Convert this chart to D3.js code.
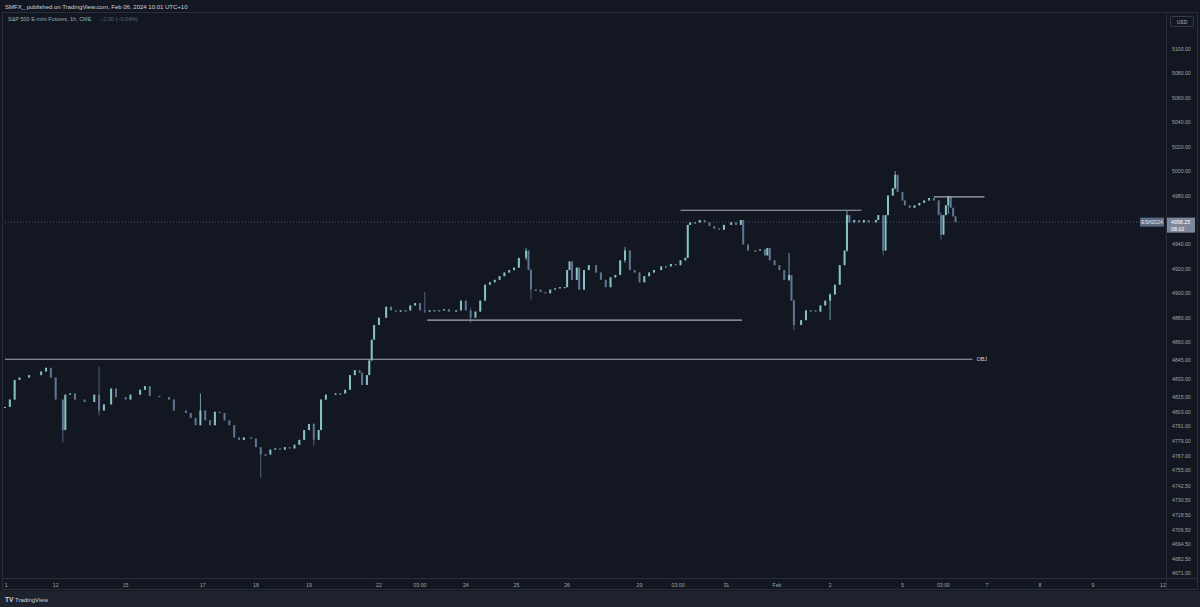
<!DOCTYPE html>
<html>
<head>
<meta charset="utf-8">
<script src="https://cdn.jsdelivr.net/npm/d3@7/dist/d3.min.js"></script>
<style>
  body { margin: 0; background: #131722; }
  svg { display: block; font-family: "Liberation Sans", "DejaVu Sans", sans-serif; }
</style>
</head>
<body>
<svg width="1200" height="607"></svg>
<script>
'use strict';
// hourly closes, ES1! Jan 11 - Feb 6
var closes = [
    4807, 4813, 4829, 4831, 4833, 4836, 4839, 4831, 4813, 4788,
    4817, 4818, 4813, 4811, 4817, 4804, 4809, 4822, 4815, 4813,
    4817, 4821, 4824, 4816, 4815, 4813, 4804, 4802, 4798, 4792,
    4804, 4796, 4792, 4803, 4802, 4796, 4792, 4782, 4780, 4782,
    4781, 4774, 4768, 4768, 4772, 4773, 4772, 4774, 4773, 4776,
    4780, 4788, 4793, 4780, 4788, 4813, 4817, 4818, 4818, 4821,
    4833, 4837, 4835, 4825, 4833, 4845, 4862, 4874, 4880, 4889,
    4886, 4885, 4886, 4886, 4890, 4892, 4886, 4885, 4886, 4886,
    4886, 4887, 4885, 4886, 4894, 4886, 4880, 4885, 4894, 4907,
    4909, 4911, 4914, 4917, 4919, 4921, 4929, 4935, 4919, 4903,
    4903, 4901, 4900, 4903, 4904, 4905, 4905, 4919, 4926, 4911,
    4921, 4903, 4919, 4923, 4917, 4911, 4905, 4913, 4915, 4927,
    4935, 4919, 4917, 4909, 4914, 4917, 4919, 4922, 4922, 4924,
    4923, 4927, 4929, 4956, 4958, 4958, 4960, 4958, 4955, 4953,
    4952, 4956, 4958, 4956, 4960, 4940, 4935, 4935, 4936, 4931,
    4937, 4927, 4923, 4919, 4911, 4915, 4894, 4874, 4878, 4886,
    4886, 4885, 4890, 4894, 4899, 4907, 4923, 4935, 4964, 4958,
    4960, 4958, 4960, 4958, 4960, 4964, 4935, 4964, 4980, 4986,
    4997, 4983, 4976, 4972, 4970, 4972, 4974, 4976, 4978, 4976,
    4964, 4948, 4964, 4972, 4979, 4970, 4963, 4958.25
];
// hour offset of each close on the (gapless) session axis
var hours = [
    0, 2, 4, 6, 10, 15, 17, 19, 21, 24,
    25, 27, 29, 33, 37, 39, 41, 44, 46, 50,
    52, 56, 58, 60, 64, 68, 70, 75, 77, 79,
    81, 83, 85, 87, 89, 91, 93, 95, 97, 99,
    102, 104, 106, 108, 110, 112, 114, 116, 118, 120,
    122, 124, 126, 128, 130, 131, 133, 137, 139, 141,
    143, 145, 147, 148, 150, 151, 152, 153, 155, 158,
    160, 162, 164, 166, 168, 170, 172, 174, 176, 178,
    180, 182, 184, 187, 189, 191, 193, 195, 197, 199,
    201, 203, 205, 207, 209, 211, 213, 216, 217, 218,
    220, 222, 224, 226, 228, 230, 232, 233, 234, 235,
    237, 238, 240, 242, 245, 247, 249, 251, 253, 255,
    257, 259, 261, 263, 265, 267, 269, 272, 274, 276,
    278, 280, 282, 283, 284, 286, 288, 290, 292, 294,
    296, 298, 301, 303, 305, 306, 308, 311, 313, 315,
    316, 317, 319, 321, 323, 325, 326, 327, 330, 332,
    334, 336, 338, 340, 342, 344, 346, 348, 349, 350,
    352, 354, 356, 358, 361, 362, 364, 365, 366, 368,
    369, 370, 372, 373, 375, 377, 379, 381, 383, 385,
    387, 388, 389, 390, 391, 392, 393, 394
];
// notable wicks: [bar index, high, low]
var wicks = [
    [9, 4800, 4778], [15, 4840, 4800], [30, 4818, 4792], [42, 4772, 4749],
    [53, 4794, 4775], [77, 4901, 4884], [86, 4888, 4876], [97, 4937, 4927],
    [99, 4920, 4895], [120, 4938, 4925], [155, 4933, 4910], [157, 4895, 4870],
    [164, 4900, 4878], [168, 4968, 4934], [176, 4962, 4931], [180, 5000, 4985],
    [191, 4966, 4944], [194, 4980, 4965]
];
var priceTicks = [5100, 5080, 5060, 5040, 5020, 5000, 4980, 4940, 4920, 4900, 4880, 4860,
    4845, 4830, 4815, 4803, 4791, 4779, 4767, 4755, 4742.5, 4730.5, 4718.5, 4706.5,
    4694.5, 4682.5, 4671];
var timeLabels = ['1', '12', '15', '17', '18', '19', '22', '03:00', '24', '25', '26', '29',
    '03:00', '31', 'Feb', '2', '5', '03:00', '7', '8', '9', '12'];
var timeHours = [0.5, 21, 50, 82, 104, 126, 155, 172, 191, 212, 233, 263,
    279, 299, 320, 342, 372, 389, 407, 429, 451, 480];
// drawn levels: [start hour, end hour, price, label]
var levels = [
    [0, 401, 4846, 'OBJ'],
    [175, 305.5, 4878, ''],
    [280, 355, 4968, ''],
    [385, 406, 4979, '']
];
var lastPrice = 4958.25;

var svg = d3.select('svg');
var x = d3.scaleLinear().domain([0, 480]).range([5, 1163]);
var y = d3.scaleLinear().domain([4671, 5100]).range([573, 49]);

// header
svg.append('text').attr('x', 5).attr('y', 9).attr('fill', '#d1d4dc').attr('font-size', 6)
    .text('SMFX_ published on TradingView.com, Feb 06, 2024 10:01 UTC+10');
svg.append('rect').attr('x', 2.5).attr('y', 12.5).attr('width', 1195).attr('height', 577)
    .attr('fill', 'none').attr('stroke', '#2a2e39');
svg.append('line').attr('x1', 1166.5).attr('x2', 1166.5).attr('y1', 12).attr('y2', 590).attr('stroke', '#2a2e39');
svg.append('line').attr('x1', 3).attr('x2', 1197).attr('y1', 578.5).attr('y2', 578.5).attr('stroke', '#2a2e39');
svg.append('text').attr('x', 8).attr('y', 21).attr('font-size', 5.5).attr('fill', '#8fb3b3')
    .text('S&P 500 E-mini Futures, 1h, CME');
svg.append('text').attr('x', 100).attr('y', 21).attr('font-size', 5.5).attr('fill', '#55706f')
    .text('\u22122.00 (\u22120.04%)');

// footer
svg.append('rect').attr('x', 0).attr('y', 591).attr('width', 1200).attr('height', 16).attr('fill', '#1e222d');
svg.append('text').attr('x', 5).attr('y', 601.5).attr('font-size', 6.5).attr('font-weight', 'bold').attr('fill', '#d1d4dc').text('TV');
svg.append('text').attr('x', 15).attr('y', 601.5).attr('font-size', 6).attr('fill', '#d1d4dc').text('TradingView');

// price axis
svg.append('rect').attr('x', 1170.5).attr('y', 16.5).attr('width', 23).attr('height', 10).attr('rx', 1.5)
    .attr('fill', 'none').attr('stroke', '#363a45');
svg.append('text').attr('x', 1182).attr('y', 23.5).attr('text-anchor', 'middle').attr('font-size', 5).attr('fill', '#b2b5be').text('USD');
svg.selectAll('.ptick').data(priceTicks).enter().append('text')
    .attr('x', 1172).attr('y', function (d) { return y(d) + 2; })
    .attr('font-size', 5.2).attr('fill', '#9aa8a8')
    .text(function (d) { return d.toFixed(2); });

// time axis
svg.append('g').selectAll('text').data(timeLabels).enter().append('text')
    .attr('x', function (d, i) { return x(timeHours[i]); }).attr('y', 586.5)
    .attr('text-anchor', 'middle').attr('font-size', 5.2).attr('fill', '#9aa8a8')
    .text(function (d) { return d; });

var plot = svg.append('g');

// last price dotted line
plot.append('line').attr('x1', 5).attr('x2', 1140).attr('y1', y(lastPrice)).attr('y2', y(lastPrice))
    .attr('stroke', '#5c6270').attr('stroke-dasharray', '1,2').attr('stroke-width', 0.8);

// candles
var bars = closes.map(function (c, i) {
    var o = i === 0 ? c : closes[i - 1];
    return { t: hours[i], o: o, c: c, h: Math.max(o, c), l: Math.min(o, c) };
});
wicks.forEach(function (w) { bars[w[0]].h = w[1]; bars[w[0]].l = w[2]; });
var upCol = '#86c3c3', downCol = '#5f7593';
plot.selectAll('.wick').data(bars).enter().append('line')
    .attr('x1', function (d) { return x(d.t); }).attr('x2', function (d) { return x(d.t); })
    .attr('y1', function (d) { return y(d.h); }).attr('y2', function (d) { return y(d.l); })
    .attr('stroke', function (d) { return d.c >= d.o ? upCol : downCol; }).attr('stroke-width', 0.8);
plot.selectAll('.body').data(bars).enter().append('rect')
    .attr('x', function (d) { return x(d.t) - 1; }).attr('width', 2)
    .attr('y', function (d) { return y(Math.max(d.o, d.c)); })
    .attr('height', function (d) { return Math.max(1, Math.abs(y(d.o) - y(d.c))); })
    .attr('fill', function (d) { return d.c >= d.o ? upCol : downCol; });

// drawn levels
plot.selectAll('.lvl').data(levels).enter().append('line')
    .attr('x1', function (d) { return x(d[0]); }).attr('x2', function (d) { return x(d[1]); })
    .attr('y1', function (d) { return y(d[2]); }).attr('y2', function (d) { return y(d[2]); })
    .attr('stroke', '#a9acb4').attr('stroke-width', 1.2);
plot.selectAll('.lvlt').data(levels).enter().append('text')
    .attr('x', function (d) { return x(d[1]) + 4; }).attr('y', function (d) { return y(d[2]) + 2; })
    .attr('font-size', 5.5).attr('fill', '#d1d4dc')
    .text(function (d) { return d[3]; });

// last price labels
var ly = y(lastPrice);
svg.append('rect').attr('x', 1140).attr('y', ly - 4.5).attr('width', 24).attr('height', 9).attr('fill', '#5d6a85');
svg.append('text').attr('x', 1152).attr('y', ly + 2).attr('text-anchor', 'middle').attr('font-size', 5).attr('fill', '#e8eaf0').text('ESH2024');
svg.append('rect').attr('x', 1167).attr('y', ly - 4.5).attr('width', 28).attr('height', 15).attr('fill', '#7d879c');
svg.append('text').attr('x', 1171).attr('y', ly + 2).attr('font-size', 5.3).attr('fill', '#ffffff').text(lastPrice.toFixed(2));
svg.append('text').attr('x', 1171).attr('y', ly + 8.5).attr('font-size', 5.3).attr('fill', '#ffffff').text('08:10');
</script>
</body>
</html>
